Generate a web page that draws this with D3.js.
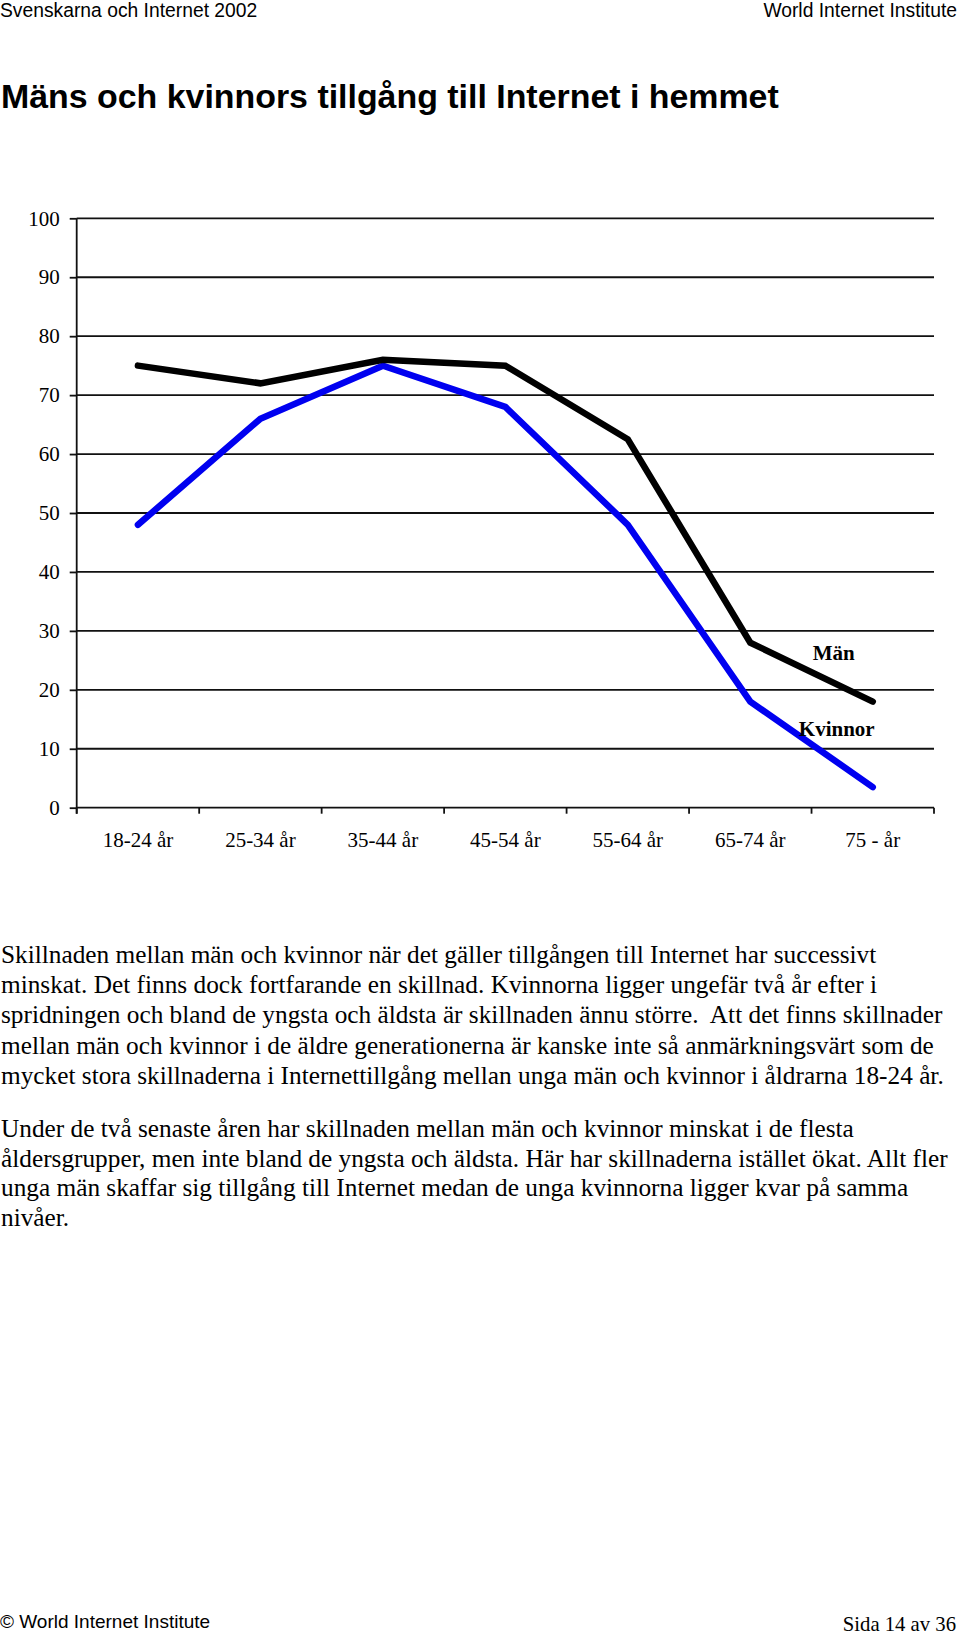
<!DOCTYPE html>
<html>
<head>
<meta charset="utf-8">
<script src="https://cdn.jsdelivr.net/npm/d3@7"></script>
<style>
  html, body { margin: 0; padding: 0; background: #fff; }
  svg { display: block; }
</style>
</head>
<body>
<svg id="chart" width="960" height="1635"></svg>
<script>
// ---- Data ----
const categories = ["18-24 år", "25-34 år", "35-44 år", "45-54 år", "55-64 år", "65-74 år", "75 - år"];
const manValues = [75, 72, 76, 75, 62.5, 28, 18];
const kvinnorValues = [48, 66, 75, 68, 48, 18, 3.5];
const yTicks = [0, 10, 20, 30, 40, 50, 60, 70, 80, 90, 100];
const seriesNames = ["Män", "Kvinnor"];

const headerLeft = "Svenskarna och Internet 2002";
const headerRight = "World Internet Institute";
const title = "Mäns och kvinnors tillgång till Internet i hemmet";
const paragraph1 = [
  "Skillnaden mellan män och kvinnor när det gäller tillgången till Internet har successivt",
  "minskat. Det finns dock fortfarande en skillnad. Kvinnorna ligger ungefär två år efter i",
  "spridningen och bland de yngsta och äldsta är skillnaden ännu större.  Att det finns skillnader",
  "mellan män och kvinnor i de äldre generationerna är kanske inte så anmärkningsvärt som de",
  "mycket stora skillnaderna i Internettillgång mellan unga män och kvinnor i åldrarna 18-24 år."
];
const paragraph2 = [
  "Under de två senaste åren har skillnaden mellan män och kvinnor minskat i de flesta",
  "åldersgrupper, men inte bland de yngsta och äldsta. Här har skillnaderna istället ökat. Allt fler",
  "unga män skaffar sig tillgång till Internet medan de unga kvinnorna ligger kvar på samma",
  "nivåer."
];
const footerLeft = "© World Internet Institute";
const footerRight = "Sida 14 av 36";

// ---- Layout ----
const svg = d3.select("#chart");
const SANS = "'Liberation Sans', Arial, sans-serif";
const SERIF = "'Liberation Serif', 'Times New Roman', serif";

const plot = { left: 76.7, right: 934, top: 218.3, bottom: 807.7 };

const x = d3.scaleBand().domain(categories).range([plot.left, plot.right]).paddingInner(0).paddingOuter(0);
const y = d3.scaleLinear().domain([0, 100]).range([plot.bottom, plot.top]);
const cx = d => x(d) + x.bandwidth() / 2;

// Header
svg.append("text").attr("x", 0).attr("y", 17).attr("font-family", SANS).attr("font-size", 19.3)
  .attr("fill", "#000").text(headerLeft);
svg.append("text").attr("x", 957).attr("y", 17).attr("text-anchor", "end").attr("font-family", SANS)
  .attr("font-size", 19.3).attr("fill", "#000").text(headerRight);

// Title
svg.append("text").attr("x", 1).attr("y", 108.4).attr("font-family", SANS).attr("font-size", 33.9)
  .attr("font-weight", "bold").attr("fill", "#000").text(title);

// Gridlines
const g = svg.append("g");
g.selectAll("line.grid").data(yTicks).enter().append("line")
  .attr("class", "grid")
  .attr("x1", plot.left).attr("x2", plot.right)
  .attr("y1", d => y(d)).attr("y2", d => y(d))
  .attr("stroke", "#111").attr("stroke-width", 1.8);

// Y axis
const yAxis = d3.axisLeft(y).tickValues(yTicks).tickSize(7).tickPadding(10).tickFormat(d3.format("d"));
const yg = g.append("g").attr("transform", `translate(${plot.left},0)`).call(yAxis);
yg.select(".domain").attr("stroke", "#111").attr("stroke-width", 1.8)
  .attr("d", `M-0,${plot.top}V${plot.bottom + 6}`);
yg.selectAll(".tick line").attr("stroke", "#111").attr("stroke-width", 1.8);
yg.selectAll(".tick text").attr("font-family", SERIF).attr("font-size", 21).attr("fill", "#000");

// X axis: boundary ticks
const boundaries = categories.map(c => x(c)).concat([plot.right]);
g.selectAll("line.xtick").data(boundaries).enter().append("line")
  .attr("class", "xtick")
  .attr("x1", d => d).attr("x2", d => d)
  .attr("y1", plot.bottom).attr("y2", plot.bottom + 6)
  .attr("stroke", "#111").attr("stroke-width", 1.8);

// X labels
g.selectAll("text.xlab").data(categories).enter().append("text")
  .attr("class", "xlab")
  .attr("x", d => cx(d)).attr("y", 846.5)
  .attr("text-anchor", "middle").attr("font-family", SERIF).attr("font-size", 21).attr("fill", "#000")
  .text(d => d);

// Lines
const line = d3.line().x((d, i) => cx(categories[i])).y(d => y(d));
g.append("path").datum(kvinnorValues).attr("d", line)
  .attr("fill", "none").attr("stroke", "#0000f0").attr("stroke-width", 6.5)
  .attr("stroke-linecap", "round").attr("stroke-linejoin", "miter");
g.append("path").datum(manValues).attr("d", line)
  .attr("fill", "none").attr("stroke", "#000").attr("stroke-width", 6.5)
  .attr("stroke-linecap", "round").attr("stroke-linejoin", "miter");

// Series labels
const lastCat = categories[categories.length - 1];
g.append("text").attr("x", cx(lastCat) - 39).attr("y", y(manValues[manValues.length - 1]) - 42)
  .attr("text-anchor", "middle").attr("font-family", SERIF).attr("font-size", 21).attr("font-weight", "bold")
  .attr("fill", "#000").text(seriesNames[0]);
g.append("text").attr("x", cx(lastCat) - 36).attr("y", y(kvinnorValues[kvinnorValues.length - 1]) - 51)
  .attr("text-anchor", "middle").attr("font-family", SERIF).attr("font-size", 21).attr("font-weight", "bold")
  .attr("fill", "#000").text(seriesNames[1]);

// Body text
const body = svg.append("g").attr("font-family", SERIF).attr("font-size", 25.3).attr("fill", "#000");
body.selectAll("text.p1").data(paragraph1).enter().append("text")
  .attr("class", "p1").attr("x", 1).attr("y", (d, i) => 963 + i * 30.2)
  .style("white-space", "pre").text(d => d);
body.selectAll("text.p2").data(paragraph2).enter().append("text")
  .attr("class", "p2").attr("x", 1).attr("y", (d, i) => 1137 + i * 29.7)
  .style("white-space", "pre").text(d => d);

// Footer
svg.append("text").attr("x", 0).attr("y", 1628).attr("font-family", SANS).attr("font-size", 19)
  .attr("fill", "#000").text(footerLeft);
svg.append("text").attr("x", 956).attr("y", 1631).attr("text-anchor", "end").attr("font-family", SERIF)
  .attr("font-size", 20.7).attr("fill", "#000").text(footerRight);
</script>
</body>
</html>
